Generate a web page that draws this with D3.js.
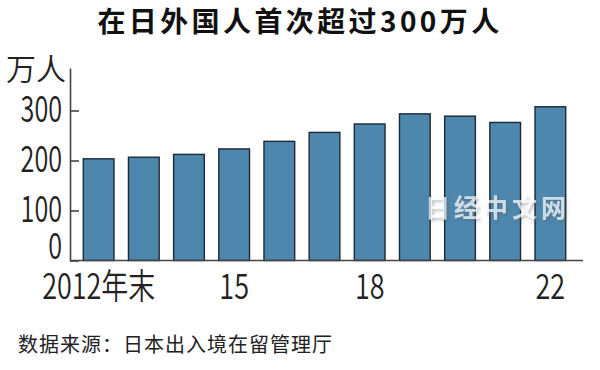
<!DOCTYPE html>
<html>
<head>
<meta charset="utf-8">
<script src="https://cdn.jsdelivr.net/npm/d3@7/dist/d3.min.js"></script>
<style>
	html, body { margin: 0; padding: 0; background: #fff; }
	svg { display: block; }
	text { font-family: "Noto Sans CJK SC", "Noto Sans", sans-serif; }
</style>
</head>
<body>
<svg id="chart" width="600" height="370"></svg>
<script>
'use strict';

// foreign residents in Japan, year end, in 10k persons
var years = [2012, 2013, 2014, 2015, 2016, 2017, 2018, 2019, 2020, 2021, 2022];
var residents = [203.4, 206.6, 212.2, 223.2, 238.3, 256.2, 273.1, 293.3, 288.7, 276.1, 307.5];
var yearLabels = ['2012年末', '', '', '15', '', '', '18', '', '', '', '22'];
var yTicks = [0, 100, 200, 300];

var title = '在日外国人首次超过300万人';
var unitLabel = '万人';
var sourceNote = '数据来源：日本出入境在留管理厅';
var watermark = '日经中文网';

var svg = d3.select('#chart');

var x = d3.scaleBand()
	.domain(years)
	.range([70, 579])
	.paddingInner(0.32)
	.paddingOuter(0.294);

var y = d3.scaleLinear()
	.domain([0, 385])
	.range([260.5, 68]);

// title
svg.append('text')
	.attr('x', 300)
	.attr('y', 32)
	.attr('text-anchor', 'middle')
	.attr('font-size', 28)
	.attr('font-weight', 'bold')
	.attr('letter-spacing', 3.4)
	.attr('fill', '#111')
	.text(title);

// unit
svg.append('text')
	.attr('x', 6)
	.attr('y', 80)
	.attr('font-size', 30)
	.attr('font-weight', 350)
	.attr('fill', '#222')
	.text(unitLabel);

// bars
svg.append('g')
	.selectAll('rect')
	.data(years)
	.enter()
		.append('rect')
		.attr('x', function (d) { return x(d); })
		.attr('y', function (d, i) { return y(residents[i]); })
		.attr('width', x.bandwidth())
		.attr('height', function (d, i) { return y(0) - y(residents[i]); })
		.attr('fill', '#4d87ae')
		.attr('stroke', '#1e2a33')
		.attr('stroke-width', 1.4);

// y axis, ticks point inward
var yAxis = d3.axisLeft(y)
	.tickValues(yTicks)
	.tickSizeInner(-9)
	.tickSizeOuter(0);

var yg = svg.append('g')
	.attr('transform', 'translate(70,0)')
	.call(yAxis);

yg.select('.domain').attr('stroke', '#444').attr('stroke-width', 1.6);
yg.selectAll('.tick line').attr('stroke', '#444').attr('stroke-width', 1.6);
var ySx = 0.68;
yg.selectAll('.tick text')
	.attr('font-family', '"Noto Sans CJK SC", sans-serif')
	.attr('font-size', 37)
	.attr('font-weight', 350)
	.attr('fill', '#222')
	.attr('transform', 'scale(' + ySx + ',1)')
	.attr('x', -8 / ySx)
	.attr('dy', function (d) { return d === 0 ? '-0.05em' : '0.3em'; });

// baseline
svg.append('line')
	.attr('x1', x.range()[0])
	.attr('x2', x.range()[1] + 4)
	.attr('y1', y(0))
	.attr('y2', y(0))
	.attr('stroke', '#444')
	.attr('stroke-width', 1.6);

// x labels
var xSx = 0.77;
svg.append('g')
	.selectAll('text')
	.data(years)
	.enter()
		.append('text')
		.attr('transform', function (d) {
			return 'translate(' + (x(d) + x.bandwidth() / 2) + ',299) scale(' + xSx + ',1)';
		})
		.attr('text-anchor', 'middle')
		.attr('font-size', 35)
		.attr('font-weight', 350)
		.attr('fill', '#222')
		.text(function (d, i) { return yearLabels[i]; });

// source
svg.append('text')
	.attr('x', 18)
	.attr('y', 352)
	.attr('font-size', 20)
	.attr('letter-spacing', 1)
	.attr('fill', '#222')
	.text(sourceNote);

// watermark
var defs = svg.append('defs');
var shadow = defs.append('filter')
	.attr('id', 'wmShadow')
	.attr('x', '-10%').attr('y', '-30%')
	.attr('width', '130%').attr('height', '170%');
shadow.append('feDropShadow')
	.attr('dx', 2).attr('dy', 2)
	.attr('stdDeviation', 1.5)
	.attr('flood-color', '#555')
	.attr('flood-opacity', 0.5);

svg.append('text')
	.attr('x', 425)
	.attr('y', 217)
	.attr('font-size', 25)
	.attr('font-weight', 'bold')
	.attr('letter-spacing', 4)
	.attr('fill', '#fff')
	.attr('fill-opacity', 0.7)
	.attr('filter', 'url(#wmShadow)')
	.text(watermark);
</script>
</body>
</html>
